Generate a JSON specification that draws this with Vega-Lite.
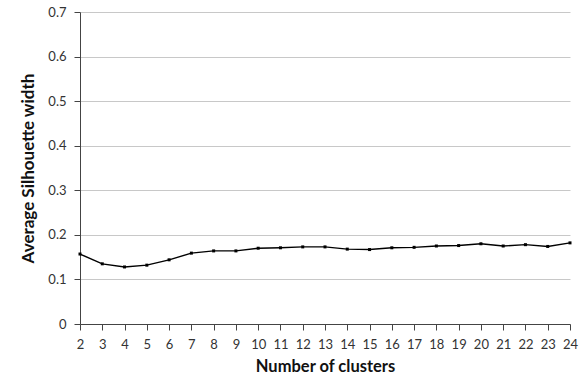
{
  "$schema": "https://vega.github.io/schema/vega-lite/v6.json",
  "autosize": "none",
  "width": 490,
  "height": 312,
  "padding": {"left": 80, "top": 12, "right": 11, "bottom": 57},
  "background": "white",
  "config": {"view": {"stroke": null}, "font": "Lato"},
  "data": {"values": [
    {"k": 2, "s": 0.157}, {"k": 3, "s": 0.135}, {"k": 4, "s": 0.128}, {"k": 5, "s": 0.132},
    {"k": 6, "s": 0.144}, {"k": 7, "s": 0.159}, {"k": 8, "s": 0.164}, {"k": 9, "s": 0.164},
    {"k": 10, "s": 0.170}, {"k": 11, "s": 0.171}, {"k": 12, "s": 0.173}, {"k": 13, "s": 0.173},
    {"k": 14, "s": 0.168}, {"k": 15, "s": 0.167}, {"k": 16, "s": 0.171}, {"k": 17, "s": 0.172},
    {"k": 18, "s": 0.175}, {"k": 19, "s": 0.176}, {"k": 20, "s": 0.180}, {"k": 21, "s": 0.175},
    {"k": 22, "s": 0.178}, {"k": 23, "s": 0.174}, {"k": 24, "s": 0.182}
  ]},
  "mark": {"type": "line", "color": "black", "strokeWidth": 1.4, "point": {"shape": "square", "size": 9, "color": "black", "filled": true}},
  "encoding": {
    "x": {"field": "k", "type": "quantitative", "scale": {"domain": [2, 24], "nice": false, "zero": false},
      "axis": {"title": "Number of clusters", "values": [2,3,4,5,6,7,8,9,10,11,12,13,14,15,16,17,18,19,20,21,22,23,24],
        "labelOverlap": false, "labelFlush": false,
        "grid": false, "domainColor": "#444", "tickColor": "#444", "tickSize": 6, "labelPadding": 8,
        "labelFontSize": 13, "labelColor": "#333", "titleFontSize": 16.5, "titleFontWeight": "bold", "titleColor": "#111", "titlePadding": 7, "format": "d"}},
    "y": {"field": "s", "type": "quantitative", "scale": {"domain": [0, 0.7], "nice": false},
      "axis": {"title": "Average Silhouette width", "values": [0,0.1,0.2,0.3,0.4,0.5,0.6,0.7], "format": "~g",
        "labelOverlap": false, "labelFlush": false,
        "grid": true, "gridColor": "#c8c8c8", "domainColor": "#444", "tickColor": "#444", "tickSize": 6, "labelPadding": 8,
        "labelFontSize": 13, "labelColor": "#333", "titleFontSize": 17, "titleFontWeight": "bold", "titleColor": "#111", "titlePadding": 10}}
  }
}
